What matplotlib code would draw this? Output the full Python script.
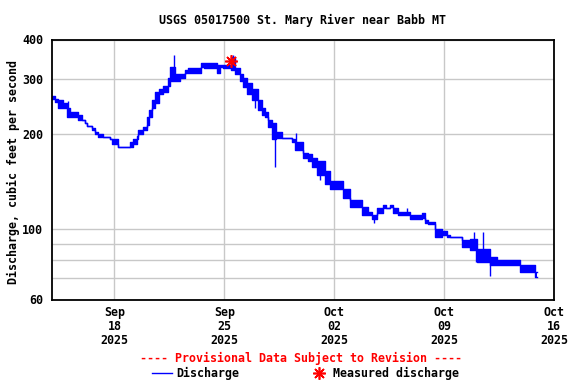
import numpy as np
import pandas as pd
import matplotlib
matplotlib.use("Agg")
import matplotlib.pyplot as plt
import matplotlib.dates as mdates
from matplotlib.lines import Line2D
from matplotlib.ticker import FixedLocator, FixedFormatter, NullFormatter

plt.rcParams['font.family'] = ['DejaVu Sans Mono']
plt.rcParams['font.weight'] = 'bold'
plt.rcParams['font.size'] = 8.4

# discharge read off the hydrograph: each segment starts at seg_day
# (days after 2025-09-14 00:00) and wobbles between seg_lo and seg_hi cfs
seg_day = [0.00, 0.22, 0.41, 0.73, 0.98, 1.17, 1.68, 1.94, 2.13, 2.25,
           2.57, 2.76, 2.96, 3.27, 3.72, 3.85, 4.23, 5.01, 5.20, 5.44,
           5.50, 5.82, 6.08, 6.20, 6.39, 6.60, 6.85, 7.09, 7.41, 7.54,
           7.86, 8.18, 8.50, 8.69, 9.52, 9.71, 10.53, 10.73, 10.92, 11.43,
           11.68, 12.00, 12.19, 12.45, 12.76, 13.15, 13.40, 13.59, 13.78, 14.04,
           14.29, 14.68, 15.31, 15.50, 16.01, 16.33, 16.59, 16.90, 17.41, 17.73,
           18.56, 19.00, 19.77, 20.15, 20.41, 20.73, 21.11, 21.30, 21.55, 21.75,
           22.06, 22.83, 23.59, 23.78, 23.97, 24.42, 24.87, 25.18, 25.38, 26.14,
           26.65, 27.09, 27.92, 28.37, 29.83, 30.79]
end_day = 30.92
seg_hi = [264, 259, 258, 252, 243, 235, 230, 223, 218, 213,
          210, 204, 201, 197, 193, 193, 183, 189, 193, 198,
          207, 212, 227, 240, 258, 273, 278, 284, 303, 328,
          310, 310, 321, 326, 338, 336, 333, 333, 333, 351,
          326, 310, 303, 292, 278, 258, 243, 235, 223, 218,
          203, 195, 193, 189, 175, 173, 169, 165, 153, 142,
          134, 124, 118, 114, 111.5, 117, 120, 117, 120, 117,
          114, 111.5, 113, 107.5, 106, 100, 99, 96.4, 94.5, 92.3,
          93, 87, 82, 80.3, 77.4, 73.5]
seg_lo = [259, 254, 243, 243, 228, 228, 223, 223, 218, 213,
          207, 201, 197, 197, 193, 186, 183, 183, 186, 193,
          200, 207, 215, 228, 243, 252, 268, 273, 284, 295,
          295, 303, 314, 314, 328, 326, 314, 328, 326, 321,
          310, 295, 282, 268, 258, 240, 231, 227, 212, 193,
          195, 195, 189, 179, 169, 165, 158, 149, 139, 134,
          126, 118, 111.5, 111.5, 108.3, 113, 117, 117, 118, 113,
          111.5, 108.3, 109, 105, 104.4, 94.5, 96.4, 94.5, 94.5, 88.3,
          86, 79, 77.4, 77.4, 73.5, 70.9]

# single readings that stick out of the band
spike_day = [1.04, 7.80, 11.55, 12.96, 14.23, 15.57, 17.09, 20.53, 22.63,
             26.90, 27.03, 27.47, 27.95]
spike_cfs = [256, 358, 358, 243, 158, 202, 144, 105, 117, 98, 79, 98, 71]

# field measurement
meas_day = [11.43]
meas_cfs = [343]

start = pd.Timestamp('2025-09-14')
t = start + pd.to_timedelta(seg_day + [end_day], unit='D')
hi = np.array(seg_hi + [seg_hi[-1]])
lo = np.array(seg_lo + [seg_lo[-1]])

fig = plt.figure(figsize=(5.76, 3.84), dpi=100)
ax = fig.add_axes([51.6 / 576, 1 - 299.5 / 384, (554 - 51.6) / 576, 260 / 384])

blue = '#0000ff'
ax.fill_between(t, lo, hi, step='post', color=blue, lw=0)
ax.step(t, hi, where='post', color=blue, lw=1.0)
ax.step(t, lo, where='post', color=blue, lw=1.0)

idx = np.searchsorted(seg_day, spike_day, side='right') - 1
base = np.sqrt(np.array(seg_hi)[idx] * np.array(seg_lo)[idx])
ts = start + pd.to_timedelta(spike_day, unit='D')
ax.vlines(ts, base, spike_cfs, color=blue, lw=1.0)

tm = start + pd.to_timedelta(meas_day, unit='D')
ax.plot(tm, meas_cfs, ls='none', marker=(8, 2, 0), ms=9, mec='red', mew=1.2)

ax.set_yscale('log')
ax.set_ylim(60, 400)
ax.yaxis.set_major_locator(FixedLocator([60, 100, 200, 300, 400]))
ax.yaxis.set_minor_locator(FixedLocator([70, 80, 90]))
ax.yaxis.set_major_formatter(FixedFormatter(['60', '100', '200', '300', '400']))
ax.yaxis.set_minor_formatter(NullFormatter())

ax.set_xlim(start, pd.Timestamp('2025-10-16'))
ax.set_xticks(pd.to_datetime(['2025-09-18', '2025-09-25', '2025-10-02',
                              '2025-10-09', '2025-10-16']))
ax.xaxis.set_major_formatter(mdates.DateFormatter('%b\n%d\n%Y'))

ax.grid(True, which='both', color='#c8c8c8', lw=1.0)
ax.set_axisbelow(True)
ax.tick_params(which='both', length=0)
ax.tick_params(axis='y', pad=6)
ax.tick_params(axis='x', pad=5)
for lab in ax.get_xticklabels():
    lab.set_linespacing(1.08)
for s in ax.spines.values():
    s.set_linewidth(1.3)

fig.text(302.8 / 576, 1 - 20 / 384, 'USGS 05017500 St. Mary River near Babb MT',
         ha='center', va='center')
fig.text(13 / 576, 1 - 172 / 384, 'Discharge, cubic feet per second',
         rotation=90, ha='center', va='center')
fig.text(301.5 / 576, 1 - 358 / 384, '---- Provisional Data Subject to Revision ----',
         ha='center', va='center', color='red')

ly = 1 - 373 / 384
fig.add_artist(Line2D([152 / 576, 172 / 576], [ly, ly], color=blue, lw=1.0))
fig.text(176 / 576, ly, 'Discharge', ha='left', va='center')
fig.add_artist(Line2D([319 / 576], [ly], ls='none', marker=(8, 2, 0), ms=9,
                      mec='red', mew=1.2))
fig.text(333 / 576, ly, 'Measured discharge', ha='left', va='center')

fig.savefig('out.png', dpi=100)
